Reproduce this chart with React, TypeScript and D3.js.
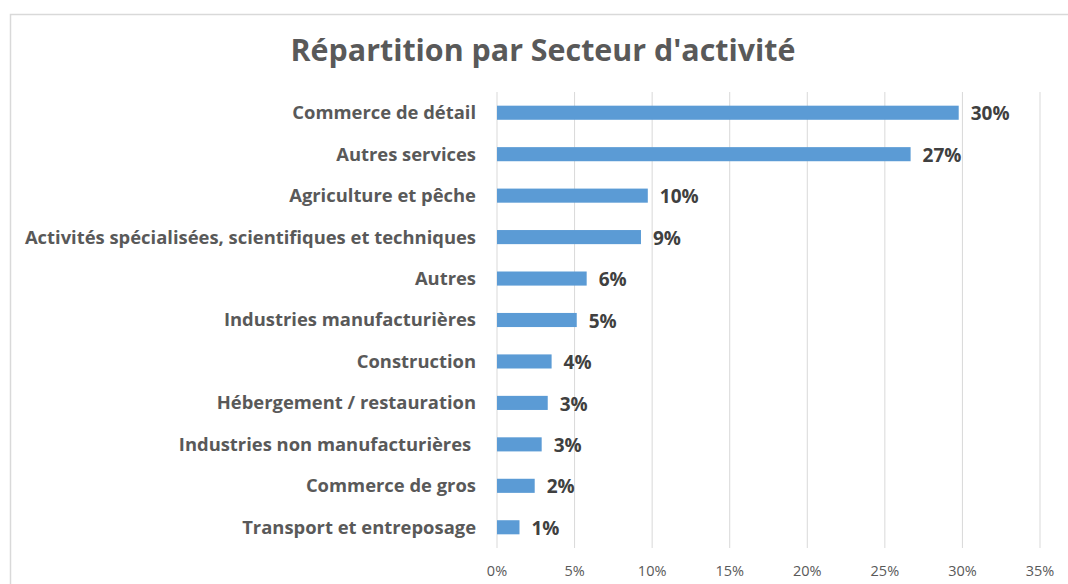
import React from "react";
import * as d3 from "d3";

const title = "Répartition par Secteur d'activité";
const sectors = [
  "Commerce de détail",
  "Autres services",
  "Agriculture et pêche",
  "Activités spécialisées, scientifiques et techniques",
  "Autres",
  "Industries manufacturières",
  "Construction",
  "Hébergement / restauration",
  "Industries non manufacturières ",
  "Commerce de gros",
  "Transport et entreposage",
];
const shares = [29.76, 26.66, 9.72, 9.28, 5.78, 5.14, 3.52, 3.27, 2.88, 2.43, 1.45];
const ticks = [0, 5, 10, 15, 20, 25, 30, 35];

const W = 1068;
const H = 584;
const FONT = "'Open Sans', sans-serif";

export default function App() {
  const x = d3.scaleLinear().domain([0, 35]).range([497, 1040]);
  const y = d3
    .scaleBand<string>()
    .domain(sectors)
    .range([92, 548])
    .paddingInner(0.66)
    .paddingOuter(0.33);

  return (
    <svg
      width={W}
      height={H}
      style={{ position: "fixed", left: 0, top: 0, background: "#fff" }}
    >
      <rect x={10.5} y={14.5} width={1100} height={700} fill="#fff" stroke="#d9d9d9" strokeWidth={1.5} />
      <text
        x={543}
        y={61}
        textAnchor="middle"
        fontFamily={FONT}
        fontWeight="bold"
        fontSize={30.4}
        fill="#595959"
      >
        {title}
      </text>

      {ticks.map((t) => (
        <g key={t}>
          <line x1={x(t)} x2={x(t)} y1={92} y2={548} stroke="#d9d9d9" strokeWidth={1} />
          <text
            x={x(t)}
            y={576}
            textAnchor="middle"
            fontFamily={FONT}
            fontSize={14.5}
            fill="#595959"
          >
            {t + "%"}
          </text>
        </g>
      ))}

      {sectors.map((s, i) => {
        const cy = (y(s) ?? 0) + y.bandwidth() / 2;
        return (
          <g key={s}>
            <rect
              x={x(0)}
              y={y(s)}
              width={x(shares[i]) - x(0)}
              height={y.bandwidth()}
              fill="#5b9bd5"
            />
            <text
              x={476}
              y={cy}
              dy="0.35em"
              textAnchor="end"
              fontFamily={FONT}
              fontWeight="bold"
              fontSize={18.4}
              fill="#595959"
              style={{ whiteSpace: "pre" }}
            >
              {s}
            </text>
            <text
              x={x(shares[i]) + 12}
              y={cy}
              dy="0.4em"
              fontFamily={FONT}
              fontWeight="bold"
              fontSize={19}
              fill="#404040"
            >
              {Math.round(shares[i]) + "%"}
            </text>
          </g>
        );
      })}
    </svg>
  );
}
